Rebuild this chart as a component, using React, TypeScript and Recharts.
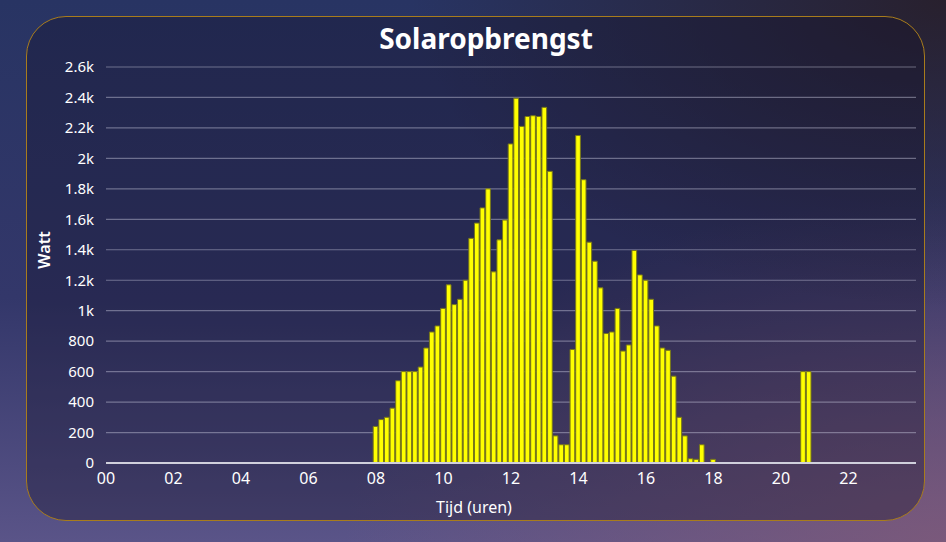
import React from 'react';
import { BarChart, Bar, XAxis, YAxis, CartesianGrid } from 'recharts';

// 10-minute readings starting 08:00
const DAY_START_HOUR = 8;
const DAY_WATTS = [
  240, 285, 300, 360, 540, 600, 600, 600, 630, 755, 860, 900,
  1015, 1170, 1040, 1075, 1200, 1475, 1575, 1675, 1800, 1255, 1465, 1595,
  2095, 2395, 2210, 2275, 2280, 2275, 2335, 1915, 178, 120, 120, 745,
  2150, 1860, 1450, 1325, 1150, 850, 860, 1015, 735, 775, 1395, 1235,
  1200, 1075, 900, 755, 740, 570, 300, 178, 28, 24, 120, 0,
  24,
];
// evening readings
const EVENING_TIMES = ['20:40', '20:50'];
const EVENING_WATTS = [600, 600];

const Y_TICKS = [0, 200, 400, 600, 800, 1000, 1200, 1400, 1600, 1800, 2000, 2200, 2400, 2600];
const X_TICKS = [0, 2, 4, 6, 8, 10, 12, 14, 16, 18, 20, 22];

const toHours = (s: string) => {
  const [h, m] = s.split(':').map(Number);
  return h + m / 60;
};

const data = [
  ...DAY_WATTS.map((w, i) => ({ t: DAY_START_HOUR + i / 6, watt: w })),
  ...EVENING_TIMES.map((s, i) => ({ t: toHours(s), watt: EVENING_WATTS[i] })),
];

const FONT = '"Noto Sans", sans-serif';
const fmtY = (v: number) => (v >= 1000 ? `${v / 1000}k` : `${v}`);
const fmtX = (v: number) => String(v).padStart(2, '0');

export default function App() {
  return (
    <div
      style={{
        position: 'fixed',
        left: 0,
        top: 0,
        width: 946,
        height: 542,
        overflow: 'hidden',
        fontFamily: FONT,
        background:
          'radial-gradient(ellipse at 100% 0%, rgba(40,30,40,0.9) 0%, rgba(40,30,40,0) 40%),' +
          'radial-gradient(ellipse at 100% 100%, rgba(130,90,120,0.8) 0%, rgba(130,90,120,0) 45%),' +
          'linear-gradient(180deg, #283463 0%, #33376a 55%, #5a5488 100%)',
      }}
    >
      <div
        style={{
          position: 'absolute',
          left: 26,
          top: 16,
          width: 897,
          height: 503,
          border: '1px solid #a87c1c',
          borderRadius: 40,
          background: 'rgba(20,18,40,0.35)',
        }}
      />
      <div
        style={{
          position: 'absolute',
          left: 286,
          top: 20,
          width: 400,
          textAlign: 'center',
          color: '#ffffff',
          fontWeight: 700,
          fontSize: 28,
          lineHeight: '36px',
        }}
      >
        Solaropbrengst
      </div>
      <div style={{ position: 'absolute', left: 0, top: 0 }}>
        <BarChart
          width={946}
          height={542}
          data={data}
          margin={{ top: 67, right: 30, bottom: 29, left: 46 }}
          barSize={4.7}
        >
          <CartesianGrid vertical={false} stroke="rgba(200,200,220,0.45)" strokeWidth={1.2} />
          <XAxis
            dataKey="t"
            type="number"
            domain={[0, 24]}
            ticks={X_TICKS}
            tickFormatter={fmtX}
            interval={0}
            height={50}
            tickLine={false}
            tickSize={4}
            tickMargin={6}
            axisLine={{ stroke: '#d0d0dc', strokeWidth: 2 }}
            tick={{ fill: '#ffffff', fontSize: 16, fontFamily: FONT }}
          />
          <YAxis
            type="number"
            domain={[0, 2600]}
            ticks={Y_TICKS}
            tickFormatter={fmtY}
            interval={0}
            width={60}
            tickLine={false}
            axisLine={false}
            tickSize={4}
            tickMargin={8}
            tick={{ fill: '#ffffff', fontSize: 15, fontFamily: FONT }}
          />
          <Bar
            dataKey="watt"
            fill="#ffff00"
            stroke="#77771a"
            strokeWidth={1}
            isAnimationActive={false}
          />
        </BarChart>
      </div>
      <div
        style={{
          position: 'absolute',
          left: 374,
          top: 496,
          width: 200,
          textAlign: 'center',
          color: '#ffffff',
          fontSize: 16,
          lineHeight: '22px',
        }}
      >
        Tijd (uren)
      </div>
      <div
        style={{
          position: 'absolute',
          left: 44,
          top: 250,
          transform: 'translate(-50%, -50%) rotate(-90deg)',
          color: '#ffffff',
          fontSize: 16,
          fontWeight: 600,
          lineHeight: '22px',
          whiteSpace: 'nowrap',
        }}
      >
        Watt
      </div>
    </div>
  );
}
